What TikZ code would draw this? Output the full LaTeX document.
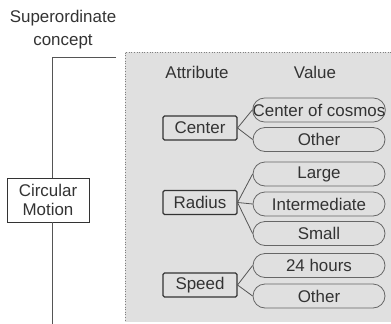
\documentclass[tikz,border=0pt]{standalone}
\usepackage{fontspec}
\setmainfont{Liberation Sans}
\definecolor{panelgray}{HTML}{E0E0E0}
\definecolor{inkgray}{HTML}{333333}
\definecolor{linegray}{HTML}{555555}
\definecolor{pillgray}{HTML}{666666}
\begin{document}
\begin{tikzpicture}[x=1bp,y=-1bp,
  every node/.style={font=\fontsize{17}{20}\selectfont, text=inkgray, inner sep=0pt},
  attrbox/.style={draw=inkgray, line width=1.1pt, rounded corners=1.5bp,
    minimum width=74bp, minimum height=24bp},
  valpill/.style={draw=pillgray, line width=0.8pt, rounded corners=12bp,
    minimum width=132bp, minimum height=24bp},
  link/.style={draw=linegray, line width=0.8pt},
  conceptbox/.style={draw=inkgray, line width=0.9pt, fill=white,
    minimum width=82bp, minimum height=44bp, align=center}]
\useasboundingbox (0,0) rectangle (391,324);

% shaded attribute/value panel with dotted top and left border
\fill[panelgray] (125,52) rectangle (391,322);
\draw[gray, dotted, line width=0.6pt] (391,52) -- (125,52) -- (125,322);

% superordinate concept and its hierarchy line
\node[align=center, font=\fontsize{17}{23}\selectfont] (sup) at (63,30) {Superordinate\\concept};
\node[conceptbox, font=\fontsize{17}{19}\selectfont] (cm) at (48,200) {Circular\\Motion};
\coordinate (hook) at (116,57);
\coordinate (corner) at (52,57);
\coordinate (bot) at (52,324);
\draw[link] (hook) -- (corner) -- (corner |- cm.north);
\draw[link] (corner |- cm.south) -- (bot);

% column headers
\node (hattr) at (197,72) {Attribute};
\node (hval) at (315,72) {Value};

% attributes
\node[attrbox] (center) at (200,128) {Center};
\node[attrbox] (radius) at (200,202.5) {Radius};
\node[attrbox] (speed) at (200,285) {Speed};

% values
\node[valpill] (cosmos) at (319,110) {Center of cosmos};
\node[valpill] (cother) at (319,139.5) {Other};
\node[valpill] (large) at (319,174) {Large};
\node[valpill] (inter) at (319,204) {Intermediate};
\node[valpill] (small) at (319,233.5) {Small};
\node[valpill] (day) at (319,265.5) {24 hours};
\node[valpill] (sother) at (319,296) {Other};

% attribute-to-value links
\foreach \a/\v in {center/cosmos, center/cother, radius/large, radius/inter,
                   radius/small, speed/day, speed/sother}
  \draw[link] (\a.east) -- (\v.west);
\end{tikzpicture}
\end{document}
